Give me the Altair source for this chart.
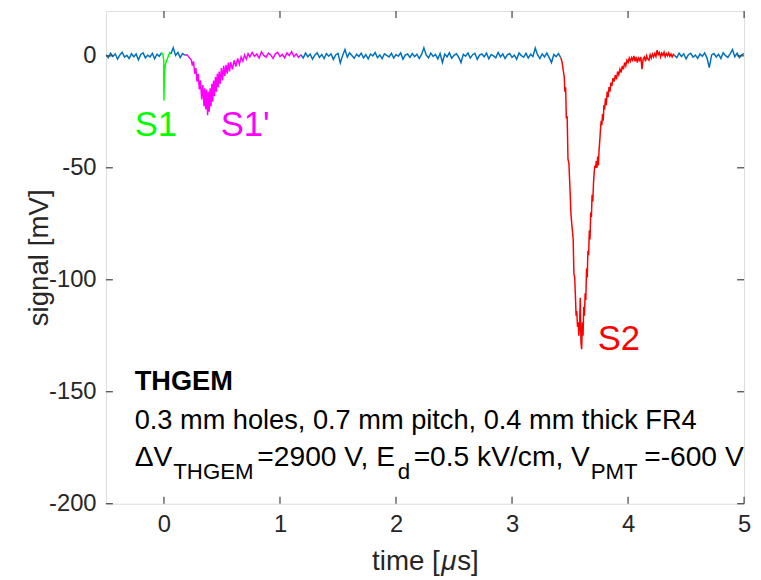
import altair as alt
import pandas as pd

FONT = "Liberation Sans"
W, H = 645, 498
AX = "#404040"

STEP = 0.02

# ---- trace segments (time in µs, signal in mV) ----
blue_a_start = -0.50
blue_a = [0.5, -0.8, 1.2, -0.3, 0.9, -1.5, 0.4, 1.6, -0.6, 0.2, -1.2, 1.0, -0.4,
          0.8, -1.8, 0.6, 1.3, -0.9, 0.3, -0.5, 1.1, -1.3, 0.7, -0.2, 1.4]

s1_t = [-0.02, -0.008, -0.002, 0.0, 0.003, 0.006, 0.012, 0.02, 0.03, 0.04, 0.05, 0.06]
s1_v = [1.4, 0.3, -2.0, -20.0, -12.0, -7.0, -4.0, -2.5, -1.2, 0.2, 1.5, 0.8]

blue_b_start = 0.06
blue_b = [0.8, 3.6, 0.2, 1.5, -0.8, 1.0, 0.3]

s1p_t = [0.18, 0.20, 0.22, 0.235, 0.245, 0.255, 0.265, 0.275, 0.285, 0.295, 0.305,
         0.315, 0.325, 0.335, 0.345, 0.352, 0.36, 0.368, 0.376, 0.383, 0.39, 0.398,
         0.405, 0.413, 0.42, 0.428, 0.436, 0.444, 0.452, 0.46, 0.468, 0.476, 0.485,
         0.495, 0.505, 0.515, 0.525, 0.535, 0.545, 0.555, 0.565, 0.575, 0.59, 0.605,
         0.62, 0.635, 0.65, 0.665, 0.68, 0.695, 0.71, 0.725, 0.74]
s1p_v = [0.3, 0.5, -1.0, -1.8, -4.4, -2.5, -8.0, -5.5, -11.5, -8.0, -15.0,
         -11.0, -19.5, -13.0, -22.5, -14.5, -24.0, -15.0, -26.5, -16.0, -25.0, -14.5,
         -22.5, -12.5, -20.5, -11.0, -18.0, -9.5, -16.0, -8.0, -14.0, -7.0, -12.5,
         -5.5, -11.0, -4.5, -9.0, -4.0, -8.0, -3.0, -7.0, -2.8, -6.0, -2.0,
         -4.8, -1.2, -3.8, -0.5, -2.4, 0.4, -1.5, 1.0, -0.5]
s1p_tail_start = 0.76
s1p_tail = [1.5, -0.2, 0.8, -1.0, 1.8, 0.2, -0.6, 1.2, 0.4, -1.2, 0.9, 1.6, -0.3,
            0.6, -0.9, 1.3, 0.1, 1.9, -0.4, 0.8, -0.7, 0.5]

blue_c_start = 1.18
blue_c = [0.5, -1.0, 1.2, -0.4, 0.8, -1.5, 0.3, 1.4, -0.7, 0.6,
          -1.2, 1.0, -0.2, 0.9, -1.6, 0.4, 1.1, -3.2, 0.2, 2.8,
          -0.6, 1.3, 0.1, -1.1, 0.7, -0.3, 1.2, -0.9, 0.5, -1.4,
          0.8, 0.0, 1.5, -0.8, 0.4, -1.3, 0.9, 0.2, -0.5, 1.1,
          -1.0, 0.6, -0.2, 1.3, -1.5, 0.3, 0.8, -0.7, 1.0, -0.4,
          0.7, -1.2, 0.5, 3.6, 0.4, -0.9, 1.2, -0.3, 0.6, -1.4,
          1.0, -3.0, 0.8, -0.5, 1.4, -1.1, 0.2, 0.9, -0.6, -3.0,
          0.7, -0.2, 1.3, -1.0, 0.5, 1.1, -1.6, 0.3, 0.8, -0.4,
          1.2, -1.3, 0.6, 0.0, -0.9, 1.5, -0.5, 0.9, -1.2, 0.4,
          1.0, -0.7, 0.3, -1.5, 1.3, 0.1, -0.6, 1.1, -1.0, 0.7,
          -0.3, 3.5, 0.4, -1.2, 0.9, -0.5, 1.2, -0.8, -3.0, 0.6,
          -0.4, 1.0, -0.8]

s2_t = [3.42, 3.43, 3.44, 3.45, 3.455, 3.462, 3.468, 3.475, 3.482, 3.49, 3.50,
        3.507, 3.513, 3.52, 3.527, 3.533, 3.54, 3.546, 3.552, 3.558, 3.564, 3.57,
        3.576, 3.582, 3.588, 3.594, 3.60, 3.606, 3.612, 3.618, 3.624, 3.63, 3.636,
        3.642, 3.648, 3.654, 3.66, 3.666, 3.672, 3.678, 3.684, 3.69, 3.696, 3.702,
        3.708, 3.714, 3.72, 3.726, 3.732, 3.738, 3.744, 3.75, 3.756, 3.762, 3.768,
        3.774, 3.78, 3.786, 3.792, 3.798, 3.805, 3.812, 3.82, 3.828, 3.836, 3.844,
        3.852, 3.86, 3.87, 3.88, 3.89, 3.90, 3.91, 3.92, 3.93, 3.94, 3.95, 3.96,
        3.97, 3.98, 3.99, 4.00, 4.01, 4.02, 4.03, 4.04, 4.05, 4.06, 4.07, 4.08,
        4.09, 4.10, 4.11, 4.12, 4.13, 4.14, 4.15, 4.16, 4.17, 4.18, 4.19, 4.20,
        4.21, 4.22, 4.23, 4.24, 4.25, 4.26, 4.27, 4.28, 4.29, 4.30, 4.31, 4.32,
        4.33, 4.34, 4.35, 4.36, 4.37, 4.38, 4.39, 4.40]
s2_v = [-0.8, -2.5, -6.0, -9.5, -16.0, -14.0, -28.0, -27.0, -46.0, -48.0, -60.0,
        -70.0, -74.0, -78.0, -82.0, -97.0, -99.0, -107.0, -116.0, -114.0, -121.0, -119.0,
        -125.0, -120.0, -108.0, -128.0, -131.0, -119.0, -125.0, -112.0, -116.0, -106.0, -109.0,
        -95.0, -99.0, -87.0, -89.0, -78.0, -82.0, -70.0, -72.0, -62.0, -65.0, -57.0,
        -52.0, -49.0, -50.0, -47.0, -50.0, -45.0, -49.0, -42.0, -38.0, -33.0, -29.0,
        -31.0, -26.0, -29.0, -22.0, -24.0, -19.0, -22.0, -16.0, -18.5, -14.0, -16.0,
        -12.0, -13.5, -10.0, -11.5, -8.5, -10.5, -7.0, -8.5, -6.0, -7.5, -4.5, -6.0,
        -3.0, -4.5, -2.0, -3.0, -1.0, -2.5, -0.8, -2.0, 0.0, -2.5, -0.5, -3.0,
        -1.0, -2.0, -0.5, -6.0, -1.5, -0.5, -2.5, 0.0, -1.5, -2.0, 0.5, -1.0,
        0.8, -0.5, 1.0, -0.3, 2.5, 0.5, 1.5, -0.5, 1.2, 0.2, 1.6, -0.4,
        1.0, 0.0, 1.3, -0.2, 0.8, -0.5, 0.6, 0.2]

blue_d_start = 4.40
blue_d = [0.2, -0.8, 1.2, -0.3, 0.9, -1.4, 0.5, 1.1, -0.6, 0.3, -1.1, 0.8, -0.2,
          1.3, -0.9, -5.3, 0.4, 1.0, -0.5, 0.7, -1.2, 1.4, 0.1, -0.7, 0.9, 2.8,
          -0.4, 1.2, -0.8, 0.5, 1.0]

X_TICKS = [0, 1, 2, 3, 4, 5]
Y_TICKS = [-200, -150, -100, -50, 0]
X_DOMAIN = [-0.5, 5]
Y_DOMAIN = [-200, 20]

KINDS = ["trace", "S1", "S1p", "S2"]
COLORS = ["#0072BD", "#00FF00", "#FF00FF", "#FF0000"]


def grid(start, n):
    return [round(start + STEP * i, 4) for i in range(n)]


def seg(part, kind, t, v):
    return pd.DataFrame({"t": t, "v": v, "part": part, "kind": kind})


df = pd.concat([
    seg("a", "trace", grid(blue_a_start, len(blue_a)) + [s1_t[0]], blue_a + [s1_v[0]]),
    seg("s1", "S1", s1_t, s1_v),
    seg("b", "trace", grid(blue_b_start, len(blue_b)), blue_b),
    seg("s1p", "S1p", s1p_t + grid(s1p_tail_start, len(s1p_tail)), s1p_v + s1p_tail),
    seg("c", "trace", grid(blue_c_start, len(blue_c)), blue_c),
    seg("s2", "S2", s2_t, s2_v),
    seg("d", "trace", grid(blue_d_start, len(blue_d)), blue_d),
], ignore_index=True)

xs = alt.Scale(domain=X_DOMAIN, nice=False, zero=False)
ys = alt.Scale(domain=Y_DOMAIN, nice=False, zero=False)

x_axis = alt.Axis(
    values=X_TICKS, ticks=False, domain=False, grid=False, labelFlush=False,
    labelOverlap=False, labelFont=FONT, labelFontSize=24, labelColor="#262626",
    labelPadding=9, title=None)
y_axis = alt.Axis(
    values=Y_TICKS, ticks=False, domain=False, grid=False, labelFlush=False,
    labelOverlap=False, labelFont=FONT, labelFontSize=24, labelColor="#262626",
    labelPadding=10, labelExpr="'' + datum.value", title="signal [mV]",
    titleFont=FONT, titleFontSize=28, titleFontWeight="normal",
    titleColor="#262626", titleX=-67, titleY=H / 2, titleAngle=270,
    titleBaseline="middle", titleAlign="center")

lines = alt.Chart(df).mark_line(strokeWidth=1.5, clip=True).encode(
    x=alt.X("t:Q", scale=xs, axis=x_axis),
    y=alt.Y("v:Q", scale=ys, axis=y_axis),
    color=alt.Color("kind:N", scale=alt.Scale(domain=KINDS, range=COLORS), legend=None),
    detail="part:N",
    order=alt.Order("t:Q"),
)

xt = pd.DataFrame({"t": X_TICKS})
yt = pd.DataFrame({"v": Y_TICKS})
TL = 7
tick_layers = [
    alt.Chart(xt).mark_rule(color=AX, strokeWidth=1.2).encode(
        x=alt.X("t:Q", scale=xs, axis=x_axis), y=alt.value(H), y2=alt.value(H - TL)),
    alt.Chart(xt).mark_rule(color=AX, strokeWidth=1.2).encode(
        x=alt.X("t:Q", scale=xs, axis=x_axis), y=alt.value(0), y2=alt.value(TL)),
    alt.Chart(yt).mark_rule(color=AX, strokeWidth=1.2).encode(
        y=alt.Y("v:Q", scale=ys, axis=y_axis), x=alt.value(0), x2=alt.value(TL)),
    alt.Chart(yt).mark_rule(color=AX, strokeWidth=1.2).encode(
        y=alt.Y("v:Q", scale=ys, axis=y_axis), x=alt.value(W), x2=alt.value(W - TL)),
]


def txt(s, x, y, size, color="#000000", weight="normal", style="normal"):
    return alt.Chart(pd.DataFrame({"s": [s]})).mark_text(
        align="left", baseline="alphabetic", font=FONT, fontSize=size,
        color=color, fontWeight=weight, fontStyle=style).encode(
        x=alt.value(x), y=alt.value(y), text="s:N")


LABELS = ["S1", "S1'", "S2"]
texts = [
    txt(LABELS[0], 29, 126, 35, "#00FF00"),
    txt(LABELS[1], 116, 126, 35, "#FF00FF"),
    txt(LABELS[2], 497, 343, 35, "#FF0000"),
    txt("THGEM", 29, 383, 27.5, "#000000", "bold"),
    txt("0.3 mm holes, 0.7 mm pitch, 0.4 mm thick FR4", 29, 422, 27.5),
]
# third line with subscripts: (text, x, is_subscript)
LINE3 = [("ΔV", 29, False), ("THGEM", 68, True), ("=2900 V, E", 153, False),
         ("d", 295, True), ("=0.5 kV/cm, V", 311, False), ("PMT", 490, True),
         ("=-600 V", 544, False)]
for s, x, sub in LINE3:
    texts.append(txt(s, x, 473 if sub else 460, 22.5 if sub else 28.5))

# x-axis title, with an italic mu as in the reference
XTITLE = [("time [", 269, "normal"), ("μ", 339, "italic"), ("s]", 355, "normal")]
for s, x, st in XTITLE:
    texts.append(txt(s, x, 565, 28, "#262626", "normal", st))

chart = alt.layer(lines, *tick_layers, *texts).properties(
    width=W, height=H,
    autosize=alt.AutoSizeParams(type="none"),
    padding={"left": 99, "top": 0, "right": 9, "bottom": 72},
).configure_view(stroke="#555555", strokeWidth=1.5).configure(background="white")

chart.save("out.html", embed_options={"renderer": "svg", "actions": False})
